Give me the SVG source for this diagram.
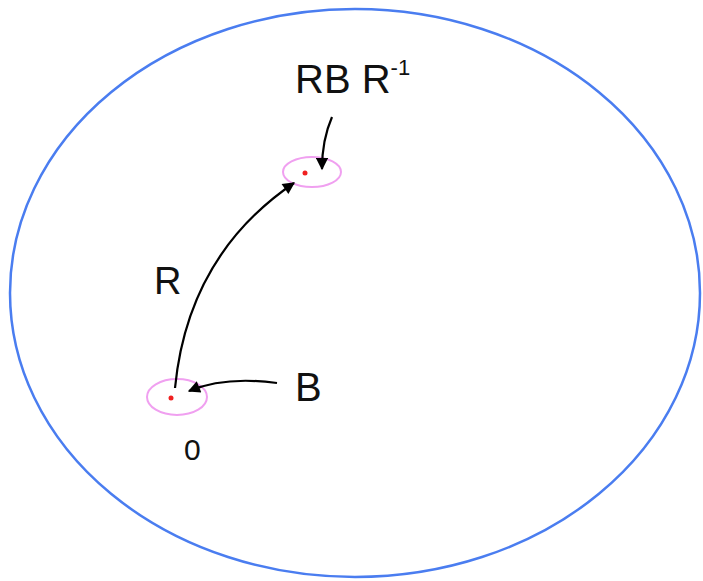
<svg xmlns="http://www.w3.org/2000/svg" width="703" height="581" viewBox="0 0 703 581">
<style>
.t{font-family:"Liberation Sans",Arial,sans-serif;fill:#111}
.pk{fill:none;stroke:#f0a0f0;stroke-width:2}
.ar{fill:none;stroke:#000;stroke-width:2.2}
</style>
<defs>
<marker id="ah" viewBox="0 0 10 10" refX="9" refY="5" markerWidth="8.5" markerHeight="5.5" orient="auto" markerUnits="strokeWidth">
<path d="M0,0 L10,5 L0,10 z" fill="#000"/>
</marker>
</defs>
<rect width="703" height="581" fill="#fff"/>
<g id="space"><ellipse cx="355" cy="293" rx="345" ry="284" fill="none" stroke="#4a7df0" stroke-width="2.5"/></g>
<g id="nodeTop"><ellipse class="pk" cx="312" cy="172" rx="29" ry="15"/><circle cx="305" cy="173" r="2.5" fill="#f02020"/></g>
<g id="nodeBottom"><ellipse class="pk" cx="177" cy="397" rx="30" ry="18"/><circle cx="171" cy="398" r="2.5" fill="#f02020"/></g>
<g id="connectors">
<path class="ar" d="M175,388 Q188,255 294,183" marker-end="url(#ah)"/>
<path class="ar" d="M277,383 Q225,376 189,391" marker-end="url(#ah)"/>
<path class="ar" d="M332,117 Q322,140 322,169" marker-end="url(#ah)"/>
</g>
<g id="labels">
<text class="t" x="295" y="93" font-size="40">RB R<tspan font-size="22" dy="-18">-1</tspan></text>
<text class="t" x="154" y="294" font-size="38">R</text>
<text class="t" x="295" y="401" font-size="40">B</text>
<text class="t" x="184" y="460" font-size="30">0</text>
</g>
</svg>
